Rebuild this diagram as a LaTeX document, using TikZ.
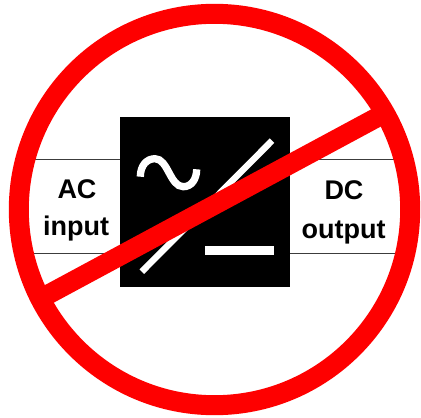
\documentclass[tikz,border=0pt]{standalone}
\usepackage{fontspec}
\setmainfont{Liberation Sans}
\definecolor{banred}{RGB}{254,0,0}
\definecolor{wire}{RGB}{60,60,60}
\begin{document}
\begin{tikzpicture}[x=1pt,y=-1pt,
  wireline/.style={draw=wire,line width=1.6pt},
  lbl/.style={anchor=base,inner sep=0pt,font=\fontsize{27}{29}\selectfont\bfseries,text=black},
  symbol/.style={draw=white,line cap=butt},
  ban/.style={draw=banred,line cap=butt}]
\useasboundingbox[fill=white] (0,0) rectangle (421,418);
\coordinate (ringc) at (214.5,209.5);
\coordinate (wl1) at (25,159.3);
\coordinate (wl2) at (25,253.3);
\coordinate (wr1) at (405,159.3);
\coordinate (wr2) at (405,253.3);
\node[fill=black,draw=none,minimum size=170pt,inner sep=0pt] (conv) at (205,202) {};
\draw[wireline] (wl1) -- (wl1-|conv.west);
\draw[wireline] (wl2) -- (wl2-|conv.west);
\draw[wireline] (wr1) -- (wr1-|conv.east);
\draw[wireline] (wr2) -- (wr2-|conv.east);
\node[lbl] (ac) at (77,198.3) {AC};
\node[lbl] (in) at (76,235.7) {input};
\node[lbl] (dc) at (344,199.8) {DC};
\node[lbl] (out) at (343.5,238) {output};
\coordinate (s1) at (141.8,271.7);
\coordinate (s2) at (272,140.7);
\draw[symbol,line width=6.4pt] (s1) -- (s2);
\coordinate (d1) at (205,250.7);
\coordinate (d2) at (274.3,250.7);
\draw[symbol,line width=9.3pt] (d1) -- (d2);
\draw[symbol,line width=7.3pt] (140.3,176.7) .. controls (140.5,165) and (147,158.7) .. (155,158.7)
  .. controls (168,158.7) and (170,186.7) .. (183.3,186.7)
  .. controls (191,186.7) and (196.5,180) .. (196.7,169.3);
\coordinate (b1) at (45,296.2);
\coordinate (b2) at (380,115.8);
\draw[ban,line width=19.7pt] (b1) -- (b2);
\draw[ban,line width=20pt] (ringc) circle[radius=195.7];
\end{tikzpicture}
\end{document}
